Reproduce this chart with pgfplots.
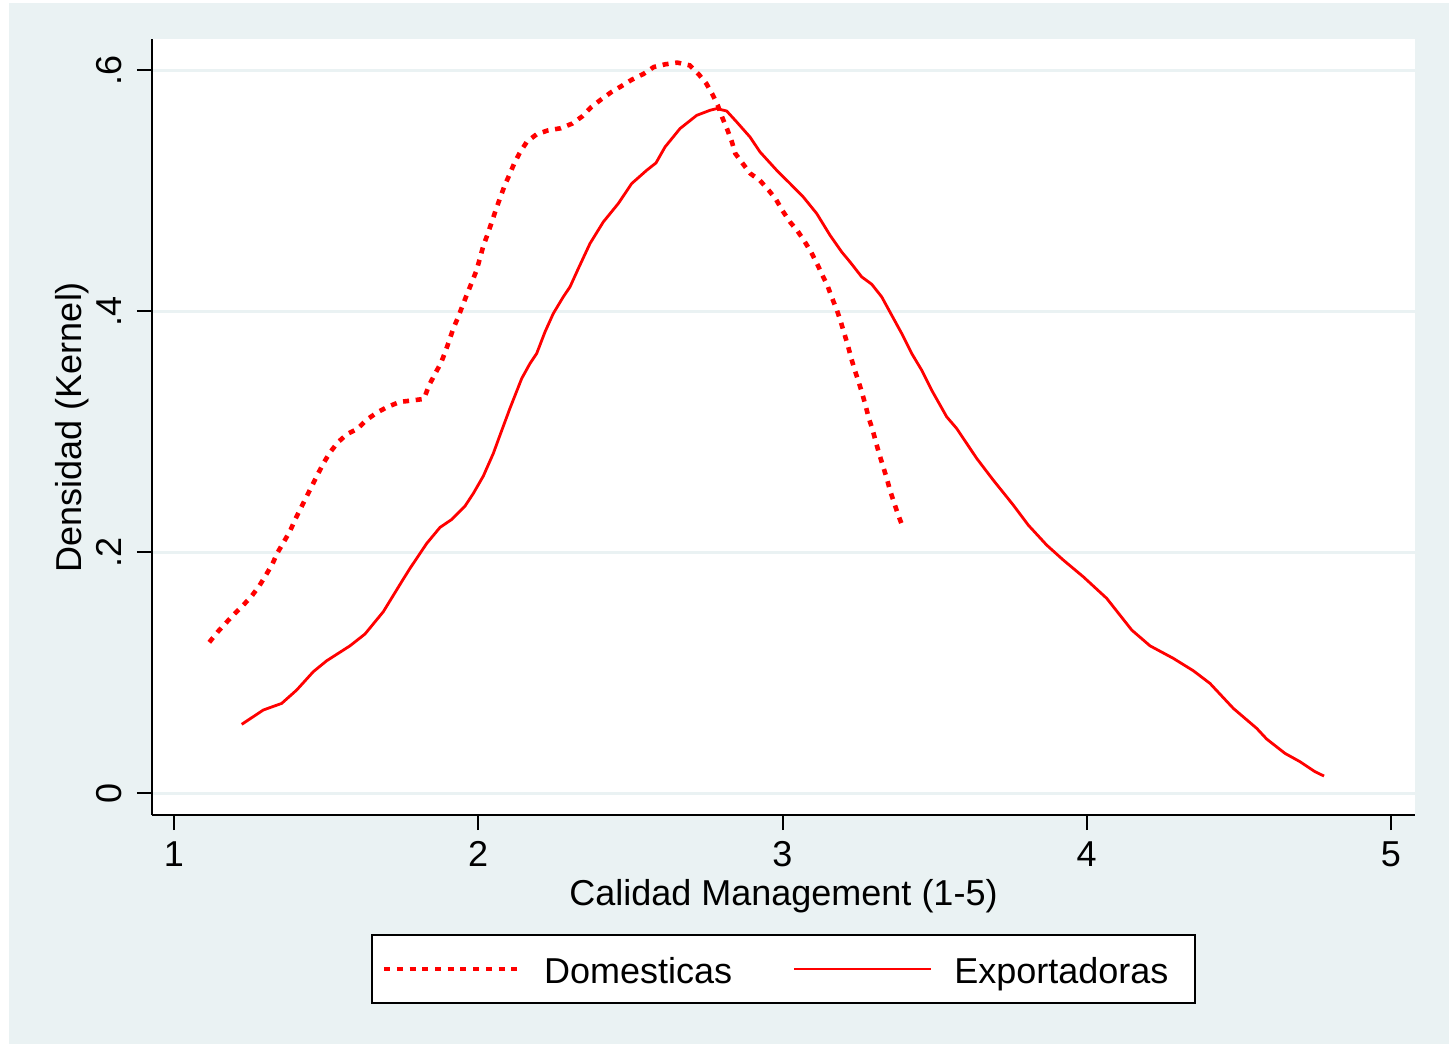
\documentclass[border=0pt]{standalone}
\usepackage{fontspec}
\setmainfont{Liberation Sans}
\usepackage{pgfplots}
\pgfplotsset{compat=1.18}
\definecolor{stbg}{RGB}{234,242,243}
\newcommand\lbl{\fontsize{18}{22}\selectfont}
\tikzset{
    domline/.style={red, line width=2.3pt, dash pattern=on 3pt off 3.35pt},
    expline/.style={red, line width=1.4pt, line join=round},
}
\pgfplotsset{
    domleg/.style={legend image code/.code={
        \path[draw=none, fill=none] (0pt,0pt) rectangle (86pt,0pt);
        \draw[domline] (6pt,0pt) -- (72.5pt,0pt);}},
    expleg/.style={legend image code/.code={
        \path[draw=none, fill=none] (0pt,0pt) rectangle (80pt,0pt);
        \draw[expline] (0pt,0pt) -- (68.2pt,0pt);}},
}

\begin{document}
\begin{tikzpicture}
% outer region (1px = 0.5pt)
\fill[white, use as bounding box] (-76pt,-114.5pt) rectangle (648.5pt,407.5pt);
\fill[stbg] (-71.5pt,-114.5pt) rectangle (648.5pt,406pt);
\begin{axis}[
    at={(0pt,0pt)}, anchor=south west,
    scale only axis, width=631.5pt, height=388pt,
    xmin=0.9277, xmax=5.0789, ymin=-0.01826, ymax=0.6260,
    axis x line*=bottom, axis y line*=left,
    axis line style={line width=1pt, black, -},
    axis background/.style={fill=white},
    xtick={1,2,3,4,5}, xticklabels={1,2,3,4,5},
    ytick={0,0.2,0.4,0.6}, yticklabels={0,.2,.4,.6},
    tick align=outside, major tick length=7.5pt,
    tick style={line width=1pt, black},
    ymajorgrids, major grid style={stbg, line width=1.5pt},
    tick label style={font=\lbl},
    xticklabel style={anchor=base, yshift=-18pt},
    yticklabel style={xshift=-7.5pt, rotate=90, anchor=base},
    label style={font=\lbl},
    xlabel={Calidad Management (1-5)},
    ylabel={Densidad (Kernel)},
    xlabel style={at={(axis description cs:0.5,-0.1160)}, anchor=base},
    ylabel style={at={(axis description cs:-0.0562,0.5)}, anchor=base},
    legend columns=2, legend cell align=left,
    legend style={at={(axis description cs:0.5,-0.15335)}, anchor=north,
        draw=black, line width=1pt, fill=white, font=\lbl,
        inner xsep=0pt, inner ysep=0pt,
        nodes={inner sep=0pt, text height=24pt, text depth=10pt},
        /tikz/every even column/.append style={column sep=30.3pt}},
]
% Domesticas
\addplot[domline, domleg]
coordinates {
(1.1160,0.1251) (1.1423,0.1334) (1.1709,0.1413) (1.1995,0.1488) (1.2278,0.1560)
(1.2554,0.1635) (1.2804,0.1720) (1.3014,0.1806) (1.3231,0.1900) (1.3408,0.1998)
(1.3606,0.2083) (1.3813,0.2174) (1.3977,0.2268) (1.4164,0.2363) (1.4339,0.2451)
(1.4536,0.2550) (1.4723,0.2645) (1.4907,0.2736) (1.5127,0.2827) (1.5380,0.2910)
(1.5686,0.2979) (1.6025,0.3023) (1.6343,0.3101) (1.6695,0.3162) (1.7044,0.3209)
(1.7428,0.3247) (1.7832,0.3259) (1.8217,0.3272) (1.8371,0.3378) (1.8555,0.3469)
(1.8766,0.3566) (1.8917,0.3662) (1.9049,0.3759) (1.9180,0.3856) (1.9344,0.3953)
(1.9489,0.4050) (1.9640,0.4147) (1.9795,0.4243) (1.9949,0.4343) (2.0058,0.4442)
(2.0166,0.4542) (2.0311,0.4641) (2.0442,0.4739) (2.0573,0.4838) (2.0715,0.4938)
(2.0856,0.5035) (2.1021,0.5131) (2.1185,0.5228) (2.1372,0.5319) (2.1602,0.5408)
(2.1921,0.5469) (2.2302,0.5502) (2.2710,0.5519) (2.3091,0.5558) (2.3420,0.5618)
(2.3706,0.5693) (2.4034,0.5757) (2.4363,0.5817) (2.4715,0.5870) (2.5053,0.5923)
(2.5425,0.5969) (2.5767,0.6027) (2.6148,0.6050) (2.6542,0.6064) (2.6950,0.6041)
(2.7246,0.5967) (2.7496,0.5890) (2.7693,0.5803) (2.7870,0.5710) (2.8022,0.5607)
(2.8186,0.5508) (2.8330,0.5411) (2.8449,0.5309) (2.8692,0.5226) (2.8942,0.5143)
(2.9261,0.5085) (2.9547,0.5004) (2.9796,0.4924) (3.0007,0.4832) (3.0247,0.4741)
(3.0500,0.4664) (3.0730,0.4578) (3.0947,0.4487) (3.1124,0.4401) (3.1308,0.4301)
(3.1486,0.4207) (3.1627,0.4110) (3.1782,0.4014) (3.1913,0.3914) (3.2031,0.3815)
(3.2153,0.3712) (3.2251,0.3616) (3.2373,0.3513) (3.2504,0.3413) (3.2623,0.3314)
(3.2734,0.3214) (3.2833,0.3115) (3.2965,0.3012) (3.3073,0.2910) (3.3182,0.2813)
(3.3303,0.2714) (3.3425,0.2614) (3.3533,0.2514) (3.3665,0.2412) (3.3796,0.2313)
(3.3918,0.2232)
};
\addlegendentry{Domesticas}
% Exportadoras
\addplot[expline, expleg]
coordinates {
(1.2225,0.0570) (1.2935,0.0689) (1.3540,0.0744) (1.4033,0.0855) (1.4578,0.1007)
(1.5019,0.1098) (1.5785,0.1222) (1.6278,0.1320) (1.6879,0.1505) (1.7517,0.1768)
(1.7757,0.1865) (1.8306,0.2072) (1.8743,0.2205) (1.9127,0.2271) (1.9565,0.2382)
(1.9838,0.2487) (2.0166,0.2631) (2.0495,0.2819) (2.0715,0.2971) (2.1044,0.3195)
(2.1428,0.3441) (2.1701,0.3566) (2.1921,0.3649) (2.2194,0.3828) (2.2467,0.3981)
(2.2795,0.4119) (2.3016,0.4202) (2.3289,0.4354) (2.3673,0.4562) (2.4110,0.4741)
(2.4603,0.4894) (2.5044,0.5060) (2.5537,0.5170) (2.5842,0.5231) (2.6138,0.5363)
(2.6631,0.5516) (2.7180,0.5626) (2.7617,0.5668) (2.7837,0.5682) (2.8166,0.5662)
(2.8495,0.5571) (2.8932,0.5446) (2.9261,0.5322) (2.9809,0.5170) (3.0247,0.5060)
(3.0684,0.4948) (3.1124,0.4811) (3.1561,0.4631) (3.1946,0.4492) (3.2219,0.4409)
(3.2603,0.4285) (3.2932,0.4224) (3.3261,0.4119) (3.3589,0.3967) (3.3918,0.3815)
(3.4247,0.3649) (3.4576,0.3510) (3.4904,0.3344) (3.5397,0.3123) (3.5726,0.3026)
(3.6383,0.2778) (3.6929,0.2597) (3.7369,0.2459) (3.7586,0.2390) (3.8079,0.2224)
(3.8684,0.2058) (3.9229,0.1934) (3.9887,0.1795) (4.0656,0.1616) (4.1478,0.1353)
(4.2079,0.1222) (4.2845,0.1118) (4.3503,0.1015) (4.4050,0.0910) (4.4816,0.0703)
(4.5585,0.0537) (4.5914,0.0448) (4.6516,0.0329) (4.7009,0.0260) (4.7502,0.0177)
(4.7798,0.0141)
};
\addlegendentry{Exportadoras\hspace*{13.2pt}}
\end{axis}
\end{tikzpicture}
\end{document}
